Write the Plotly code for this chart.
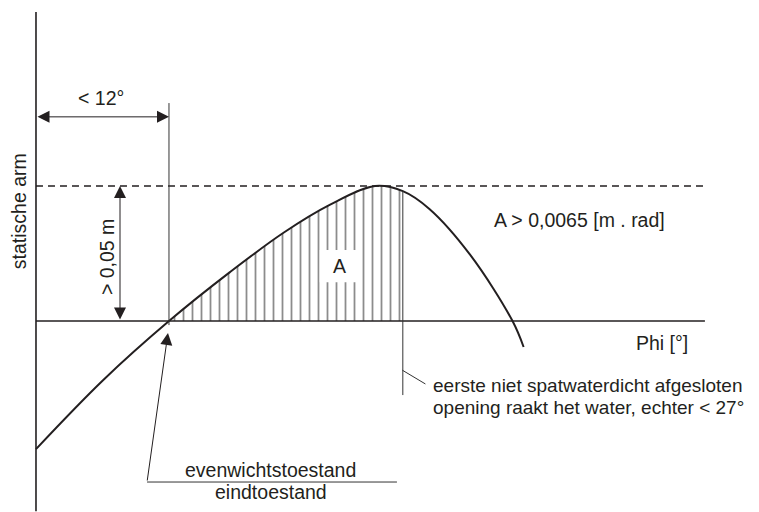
import plotly.graph_objects as go

# heel angle (deg) and righting arm (m)
phi = [0, 6.05, 12, 17.5, 22.3, 26.5, 30.6, 33.1, 35.5, 39.2, 43, 44]
arm = [-0.0474, -0.0219, 0, 0.0181, 0.0326, 0.043, 0.05, 0.0481, 0.0415, 0.0244, 0, -0.0096]

phi_eq = 12        # equilibrium / end state
phi_open = 33.1    # first non-watertight opening
arm_min = 0.05

INK = "#231f20"
FONT = dict(family="Liberation Sans, Arial, sans-serif", size=19.5, color=INK)
FONT_SM = dict(FONT, size=19)

hatch_phi = [p for p in phi if phi_eq <= p <= phi_open]
hatch_arm = [a for p, a in zip(phi, arm) if phi_eq <= p <= phi_open]

fig = go.Figure()

fig.add_trace(go.Scatter(
    x=hatch_phi, y=hatch_arm, mode="lines", line=dict(width=0, shape="spline"),
    fill="tozeroy", fillcolor="white",
    fillpattern=dict(shape="|", size=9, solidity=0.2, fgcolor="#1a1a1a", bgcolor="white"),
    hoverinfo="skip",
))
fig.add_trace(go.Scatter(
    x=phi, y=arm, mode="lines", line=dict(color=INK, width=2, shape="spline"),
    hoverinfo="skip",
))

x_end = 60.36
line_k = dict(color=INK, width=1.6)
thin = dict(color="#333", width=1)
fig.add_shape(type="line", x0=0, x1=0, y0=-0.0704, y1=0.1144, line=line_k)
fig.add_shape(type="line", x0=0, x1=x_end, y0=0, y1=0, line=line_k)
fig.add_shape(type="line", x0=0, x1=x_end, y0=arm_min, y1=arm_min,
              line=dict(color=INK, width=1.6, dash="7px,5px"))
fig.add_shape(type="line", x0=phi_eq, x1=phi_eq, y0=-0.0015, y1=0.0807, line=thin)
fig.add_shape(type="line", x0=phi_open, x1=phi_open, y0=-0.0274, y1=arm[phi.index(phi_open)], line=thin)
fig.add_shape(type="line", x0=33.06, x1=35.14, y0=-0.0182, y1=-0.0233, line=thin)
fig.add_shape(type="line", x0=10.02, x1=32.57, y0=-0.0596, y1=-0.0596, line=thin)
# white patch behind the "A"
fig.add_shape(type="rect", x0=25.6, x1=29.05, y0=0.0144, y1=0.0263,
              fillcolor="white", line=dict(width=0))

arrow = dict(showarrow=True, text="", axref="x", ayref="y", arrowhead=2, arrowsize=2.4,
             arrowwidth=1, arrowcolor=INK, standoff=0, startstandoff=0)
fig.add_annotation(x=phi_eq, y=0.0756, ax=0, ay=0.0756, arrowside="end+start",
                   startarrowhead=2, startarrowsize=2.4, **arrow)
fig.add_annotation(x=7.58, y=arm_min, ax=7.58, ay=0, arrowside="end+start",
                   startarrowhead=2, startarrowsize=2.4, **arrow)
fig.add_annotation(x=11.91, y=-0.0044, ax=10.02, ay=-0.0596, **arrow)

labels = [
    ("< 12°", 5.86, 0.0826, "center", 0, FONT),
    ("> 0,05 m", 6.41, 0.0237, "center", -90, FONT),
    ("statische arm", -1.53, 0.0407, "center", -90, FONT),
    ("A", 27.43, 0.0204, "center", 0, FONT),
    ("A > 0,0065 [m . rad]", 49.08, 0.0374, "center", 0, FONT),
    ("Phi [°]", 56.48, -0.0082, "center", 0, FONT),
    ("eerste niet spatwaterdicht afgesloten", 35.6, -0.0237, "left", 0, FONT_SM),
    ("opening raakt het water, echter < 27°", 35.6, -0.0319, "left", 0, FONT_SM),
    ("evenwichtstoestand", 21.2, -0.0552, "center", 0, FONT),
    ("eindtoestand", 21.2, -0.0633, "center", 0, FONT),
]
for txt, x, y, anchor, ang, fnt in labels:
    fig.add_annotation(x=x, y=y, text=txt, showarrow=False, xanchor=anchor,
                       yanchor="middle", textangle=ang, font=fnt)

# page body has an 8px margin, so the figure is 8px smaller and the ranges start 8px in
fig.update_layout(
    width=751, height=504, margin=dict(l=0, r=0, t=0, b=0),
    plot_bgcolor="white", paper_bgcolor="white", showlegend=False,
    xaxis=dict(visible=False, range=[-2.526, 65.24]),
    yaxis=dict(visible=False, range=[-0.0707, 0.1159]),
)

fig.write_html("out.html")
